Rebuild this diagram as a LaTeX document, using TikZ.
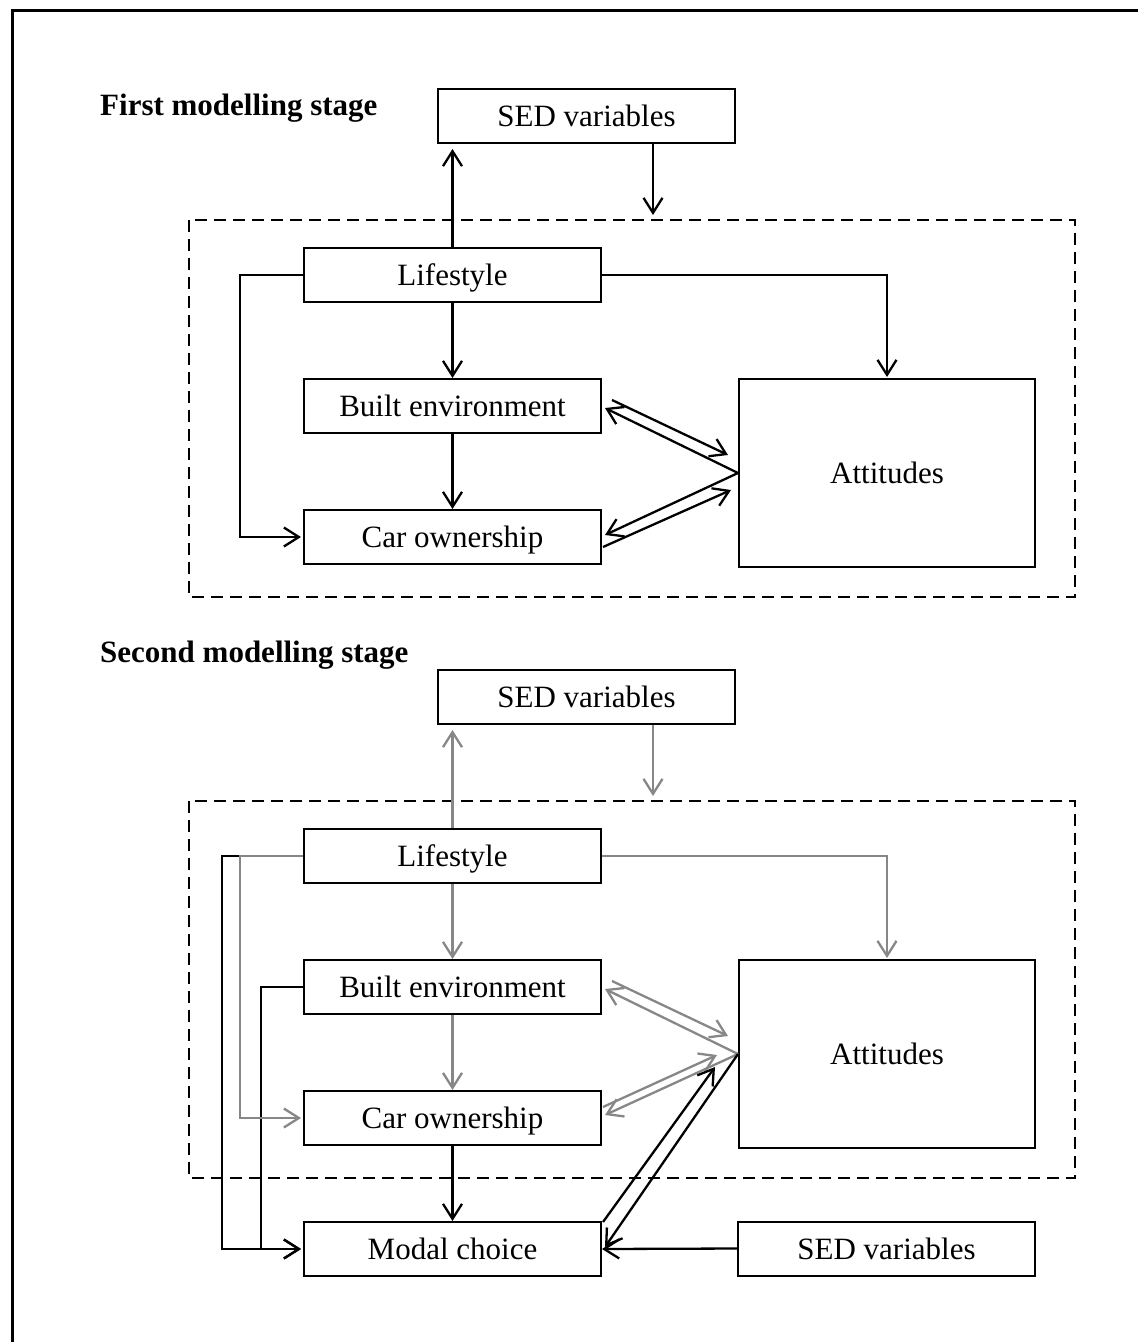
\documentclass[tikz,border=0pt]{standalone}
\usepackage{fontspec}
\setmainfont{Liberation Serif}
\usetikzlibrary{arrows.meta,calc}
\definecolor{linkgray}{RGB}{135,135,135}
\tikzset{
  varbox/.style={draw, line width=2pt, minimum width=297pt, minimum height=54pt,
    inner sep=0pt, text height=21pt, text depth=0pt, font=\fontsize{31}{36}\selectfont},
  attbox/.style={varbox, minimum width=296pt, minimum height=188pt},
  stagetitle/.style={anchor=base west, inner sep=0pt, font=\fontsize{31}{36}\selectfont\bfseries},
  link/.style={line width=2.3pt, -{Straight Barb[length=15pt,width=19pt,line width=2.3pt]}},
  glink/.style={link, draw=linkgray},
  frame/.style={draw, dashed, line width=2.2pt, dash pattern=on 12pt off 7pt},
}
\begin{document}
\begin{tikzpicture}[x=1pt,y=-1pt]
\useasboundingbox (0,0) rectangle (1138,1342);
% outer frame
\draw[line width=3pt] (12,1342) -- (12,10) -- (1138,10);

% ---------------- first modelling stage ----------------
\node[stagetitle] (t1) at (100,115) {First modelling stage};
\node[varbox] (sed1) at (586.5,116) {SED variables};
\draw[frame] (189,220) rectangle (1075,597);
\node[varbox] (life1) at (452.5,275) {Lifestyle};
\node[varbox] (be1) at (452.5,406) {Built environment};
\node[varbox] (car1) at (452.5,537) {Car ownership};
\node[attbox] (att1) at (887,473) {Attitudes};

\coordinate (up1) at (452.5,149);
\coordinate (dn1) at (653,215);
\draw[link] (life1.north) -- (up1);
\draw[link] (sed1.south -| dn1) -- (dn1);
\draw[link, shorten >=2pt] (life1.west) -- (240,275) |- (car1.west);
\draw[link, shorten >=1pt] (life1.east) -| (att1.north);
\draw[link] (life1.south) -- (be1.north);
\draw[link] (be1.south) -- (car1.north);

\coordinate (a1s) at (612,400);  \coordinate (a1e) at (728,455);
\coordinate (b1e) at (605,408);
\coordinate (c1e) at (605,535);
\coordinate (d1s) at (603,547);  \coordinate (d1e) at (731,490);
\draw[link] (a1s) -- (a1e);
\draw[link] (att1.west) -- (b1e);
\draw[link] (att1.west) -- (c1e);
\draw[link] (d1s) -- (d1e);

% ---------------- second modelling stage ----------------
\node[stagetitle] (t2) at (100,662) {Second modelling stage};
\node[varbox] (sed2) at (586.5,697) {SED variables};
\draw[frame] (189,801) rectangle (1075,1178);
\node[varbox] (life2) at (452.5,856) {Lifestyle};
\node[varbox] (be2) at (452.5,987) {Built environment};
\node[varbox] (car2) at (452.5,1118) {Car ownership};
\node[attbox] (att2) at (887,1054) {Attitudes};
\node[varbox] (modal) at (452.5,1249) {Modal choice};
\node[varbox] (sed3) at (886.5,1248.5) {SED variables};

% direct paths into modal choice
\draw[link, shorten >=2pt] (life2.west) -- (222,856) |- (modal.west);
\draw[link, shorten >=2pt] (be2.west) -- (261,987) |- (modal.west);
\draw[link] (car2.south) -- (modal.north);
\draw[link] (sed3.west) -- (modal.east);

% relations estimated in the first stage
\coordinate (up2) at (452.5,730);
\coordinate (dn2) at (653,796);
\draw[glink] (life2.north) -- (up2);
\draw[glink] (sed2.south -| dn2) -- (dn2);
\draw[glink, shorten >=2pt] (life2.west) -- (240,856) |- (car2.west);
\draw[glink, shorten >=1pt] (life2.east) -| (att2.north);
\draw[glink] (life2.south) -- (be2.north);
\draw[glink] (be2.south) -- (car2.north);

\coordinate (a2s) at (612,981);  \coordinate (a2e) at (728,1036);
\coordinate (b2e) at (605,989);
\coordinate (c2e) at (605,1115);
\coordinate (d2s) at (603,1107); \coordinate (d2e) at (717,1055);
\draw[glink] (a2s) -- (a2e);
\draw[glink] (att2.west) -- (b2e);
\draw[glink] (att2.west) -- (c2e);
\draw[glink] (d2s) -- (d2e);

% attitudes and modal choice
\coordinate (e2s) at (603,1222); \coordinate (e2e) at (715,1067);
\coordinate (f2e) at (605,1247);
\draw[link] (e2s) -- (e2e);
\draw[link] (att2.west) -- (f2e);
\end{tikzpicture}
\end{document}
